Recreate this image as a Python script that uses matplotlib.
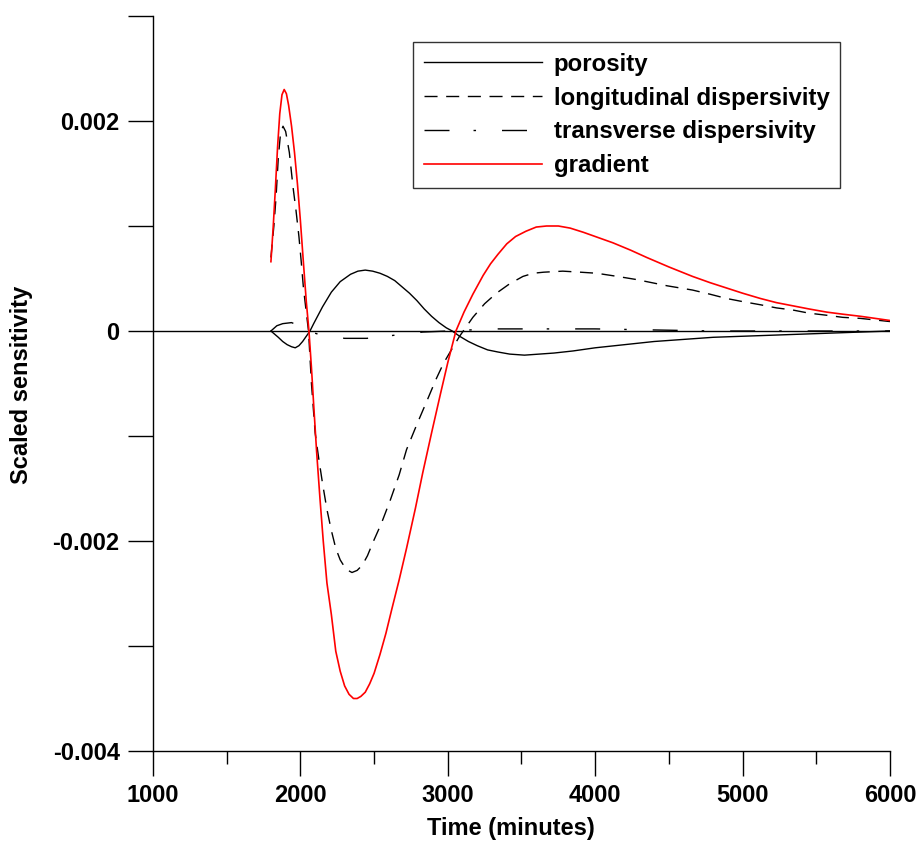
import numpy as np
import matplotlib
matplotlib.use('Agg')
import matplotlib.pyplot as plt
from matplotlib.ticker import MultipleLocator, FuncFormatter

plt.rcParams['font.family'] = ['Liberation Sans', 'DejaVu Sans']
plt.rcParams['font.weight'] = 'bold'

# time axis (minutes) and scaled sensitivities of each parameter
t_por = [1800, 1825, 1850, 1880, 1910, 1940, 1965, 1990, 2015, 2040, 2065, 2090,
         2120, 2150, 2180, 2210, 2240, 2270, 2300, 2340, 2390, 2440, 2490, 2540,
         2590, 2640, 2690, 2740, 2790, 2840, 2890, 2940, 2990, 3030, 3080, 3140,
         3200, 3270, 3340, 3420, 3520, 3620, 3720, 3850, 4000, 4200, 4400, 4600,
         4800, 5000, 5200, 5400, 5600, 5800, 6000]
porosity = [0.0, -0.00003, -0.00006, -0.0001, -0.00013, -0.00015, -0.00016,
            -0.00014, -0.0001, -0.00005, 0.0, 0.00007, 0.00015, 0.00023, 0.0003,
            0.00037, 0.00042, 0.00047, 0.0005, 0.00054, 0.00057, 0.00058, 0.00057,
            0.00055, 0.00052, 0.00048, 0.00042, 0.00036, 0.00029, 0.00021, 0.00014,
            0.00008, 0.00003, 0.0, -0.00005, -0.0001, -0.00014, -0.00018, -0.0002,
            -0.00022, -0.00023, -0.00022, -0.00021, -0.00019, -0.00016, -0.00013,
            -0.0001, -0.00008, -0.00006, -0.00005, -0.00004, -0.00003, -0.00002,
            -0.00001, 0.0]

t_long = [1800, 1820, 1835, 1850, 1865, 1882, 1900, 1925, 1950, 1970, 1990, 2005,
          2020, 2038, 2055, 2075, 2100, 2125, 2150, 2180, 2210, 2240, 2270, 2310,
          2350, 2385, 2420, 2455, 2490, 2550, 2610, 2670, 2720, 2790, 2860, 2920,
          2970, 3020, 3080, 3130, 3170, 3250, 3330, 3420, 3510, 3580, 3650, 3780,
          3900, 4010, 4150, 4280, 4490, 4660, 4780, 4890, 5000, 5120, 5230, 5340,
          5450, 5570, 5680, 5800, 6000]
long_disp = [0.0007, 0.001, 0.00128, 0.00165, 0.00188, 0.00195, 0.0019, 0.0017,
             0.00137, 0.00115, 0.0009, 0.00067, 0.00042, 0.0002, 0.0, -0.0005,
             -0.00097, -0.00122, -0.00145, -0.0017, -0.0019, -0.00207, -0.00218,
             -0.00227, -0.0023, -0.00228, -0.00223, -0.00214, -0.00202, -0.00183,
             -0.00161, -0.00137, -0.00113, -0.00089, -0.00066, -0.00046, -0.00031,
             -0.00019, -0.00005, 0.00005, 0.00013, 0.00026, 0.00036, 0.00045,
             0.00052, 0.00055, 0.00056, 0.00057, 0.00056, 0.00055, 0.00052, 0.00049,
             0.00043, 0.00039, 0.00035, 0.00031, 0.00028, 0.00025, 0.00022, 0.0002,
             0.00017, 0.00015, 0.00013, 0.00012, 0.00009]

t_trans = [1800, 1840, 1880, 1940, 1990, 2050, 2120, 2200, 2300, 2450, 2640, 2830,
           3000, 3300, 3600, 4000, 4400, 4800, 6000]
trans_disp = [0.0, 0.00005, 0.00007, 0.00008, 0.00005, 0.0, -0.00003, -0.00005,
              -0.00007, -0.00007, -0.00004, -0.00001, 0.0, 0.00002, 0.00002,
              0.00002, 0.00001, 0.0, 0.0]

t_grad = [1800, 1815, 1830, 1845, 1860, 1875, 1890, 1905, 1920, 1940, 1960, 1980,
          2000, 2020, 2040, 2058, 2075, 2090, 2110, 2133, 2155, 2180, 2210, 2240,
          2270, 2300, 2330, 2360, 2385, 2410, 2440, 2470, 2500, 2540, 2580, 2620,
          2670, 2720, 2780, 2830, 2890, 2950, 3000, 3055, 3110, 3170, 3240, 3290,
          3340, 3400, 3460, 3530, 3600, 3670, 3750, 3830, 3920, 4020, 4120, 4240,
          4350, 4500, 4660, 4780, 4890, 5000, 5120, 5230, 5340, 5450, 5570, 5680,
          5800, 5900, 6000]
gradient = [0.00066, 0.00098, 0.00135, 0.00175, 0.00207, 0.00225, 0.0023, 0.00226,
            0.00215, 0.00195, 0.0017, 0.0014, 0.00105, 0.00066, 0.00028, 0.0,
            -0.00035, -0.0007, -0.00115, -0.0016, -0.002, -0.0024, -0.0027,
            -0.00305, -0.00324, -0.00338, -0.00346, -0.0035, -0.0035, -0.00348,
            -0.00344, -0.00336, -0.00326, -0.00308, -0.00288, -0.00265, -0.00237,
            -0.00207, -0.00169, -0.00135, -0.00097, -0.0006, -0.0003, 0.0, 0.00018,
            0.00035, 0.00053, 0.00064, 0.00073, 0.00083, 0.0009, 0.00095, 0.00099,
            0.001, 0.001, 0.00098, 0.00094, 0.00089, 0.00084, 0.00077, 0.0007,
            0.00061, 0.00052, 0.00046, 0.00041, 0.00036, 0.00031, 0.00027, 0.00024,
            0.00021, 0.00018, 0.00016, 0.00014, 0.00012, 0.0001]

fig = plt.figure(figsize=(9.2, 8.41), dpi=100)
ax = fig.add_axes([153/920, 1-751/841, 737/920, 735/841])

ax.axhline(0, color='black', lw=1.0)
ax.plot(t_por, porosity, color='black', lw=1.0, label='porosity')
ax.plot(t_long, long_disp, color='black', lw=1.0, ls=(0, (9.4, 6.2)),
        label='longitudinal dispersivity')
ax.plot(t_trans, trans_disp, color='black', lw=1.0, ls=(0, (18, 17.3, 1.8, 18.7)),
        label='transverse dispersivity')
ax.plot(t_grad, gradient, color='#ff0000', lw=1.2, label='gradient')

ax.set_xlim(1000, 6000)
ax.set_ylim(-0.004, 0.003)
for s in ['top', 'right']:
    ax.spines[s].set_visible(False)
for s in ['left', 'bottom']:
    ax.spines[s].set_linewidth(1.0)

ax.xaxis.set_major_locator(MultipleLocator(1000))
ax.xaxis.set_minor_locator(MultipleLocator(500))
ax.yaxis.set_major_locator(MultipleLocator(0.002))
ax.yaxis.set_minor_locator(MultipleLocator(0.001))
ax.yaxis.set_major_formatter(FuncFormatter(lambda v, p: '0' if abs(v) < 1e-12 else ('%g' % v).replace('\u2212', '-')))
ax.xaxis.set_major_formatter(FuncFormatter(lambda v, p: '%d' % v))

ax.tick_params(axis='x', which='major', direction='out', length=18, width=1.0, pad=6, labelsize=17)
ax.tick_params(axis='x', which='minor', direction='out', length=9.4, width=1.0)
ax.tick_params(axis='y', which='both', direction='out', length=18, width=1.0, pad=6, labelsize=17)

ax.set_xlabel('Time (minutes)', fontsize=17, fontweight='bold', va='center')
ax.xaxis.set_label_coords(0.486, -0.106)
ax.set_ylabel('Scaled sensitivity', fontsize=17, fontweight='bold', va='center', ha='center')
ax.yaxis.set_label_coords(-0.178, 0.498)

leg = ax.legend(loc='upper left', bbox_to_anchor=(413/920, 1-42/841),
                bbox_transform=fig.transFigure, borderaxespad=0,
                prop={'weight': 'bold', 'size': 17.3}, handlelength=4.9,
                handletextpad=0.5, labelspacing=0.45, borderpad=0.45,
                fancybox=False, frameon=True)
leg.get_frame().set_edgecolor('black')
leg.get_frame().set_linewidth(1.0)

fig.savefig('out.png', dpi=100)
